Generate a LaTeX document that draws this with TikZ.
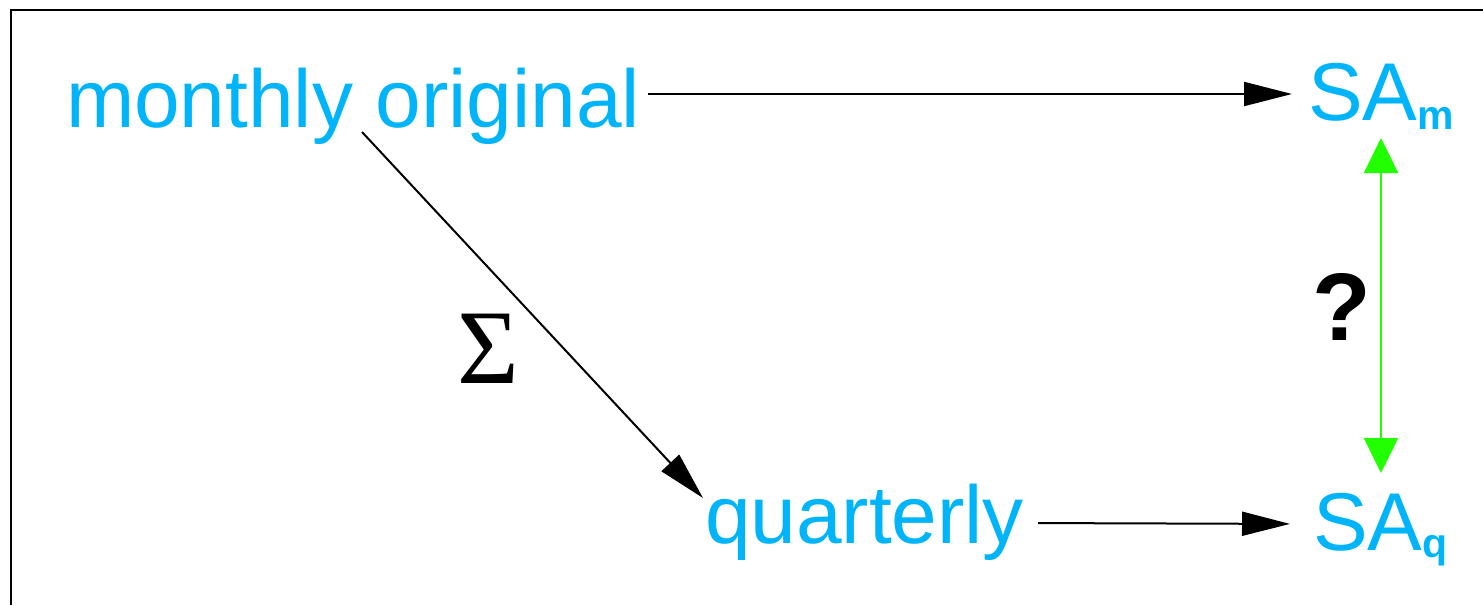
\documentclass[tikz,border=0pt]{standalone}
\usepackage{fontspec}
\setmainfont{Liberation Sans}
\newfontfamily\seriffont{Liberation Serif}
\usetikzlibrary{arrows.meta}
\definecolor{lblblue}{RGB}{0,180,250}
\definecolor{arrgreen}{RGB}{33,255,0}
\begin{document}
\begin{tikzpicture}[x=1pt,y=-1pt,
  lbl/.style={inner sep=0pt, outer sep=0pt, text=lblblue, font=\fontsize{82}{98}\selectfont, anchor=base west, text depth=0pt},
  blk/.style={line width=2pt, -{Triangle[length=48pt,width=24pt]}},
  grn/.style={draw=arrgreen, line width=2.5pt, {Triangle[length=35pt,width=34pt]}-{Triangle[length=35pt,width=34pt]}, arrgreen}]
\useasboundingbox (0,0) rectangle (1483,605);
\fill[white] (0,0) rectangle (1483,605);
\draw[line width=2.5pt] (11,605) -- (11,10) -- (1483,10);
\node[lbl, text height=66pt] (mo) at (66,127) {monthly original};
\node[lbl, text height=52pt] (sam) at (1308,120) {SA\raisebox{-9pt}{\fontsize{41}{41}\selectfont\bfseries m}};
\node[lbl, text height=40pt] (q) at (705,543) {quarterly};
\node[lbl, text height=52pt] (saq) at (1313,550) {SA\raisebox{-7pt}{\fontsize{41}{41}\selectfont\bfseries q}};
\node[inner sep=0pt, anchor=base west, font=\seriffont\fontsize{106}{110}\selectfont] (sig) at (457,383) {Σ};
\node[inner sep=0pt, anchor=base west, font=\fontsize{96}{100}\selectfont\bfseries] (qm) at (1312,340) {?};
\draw[blk, shorten <=8pt, shorten >=16pt] (mo.east) -- (sam.west);
\draw[blk, shorten <=14pt, shorten >=23pt] (q.east) -- (saq.west);
\draw[blk] ([xshift=296pt,yshift=-5pt]mo.south west) -- ([xshift=-2pt,yshift=5pt]q.north west);
\draw[grn] ([xshift=73pt,yshift=-18pt]sam.south west) -- ([xshift=68pt,yshift=25pt]saq.north west);
\end{tikzpicture}
\end{document}
